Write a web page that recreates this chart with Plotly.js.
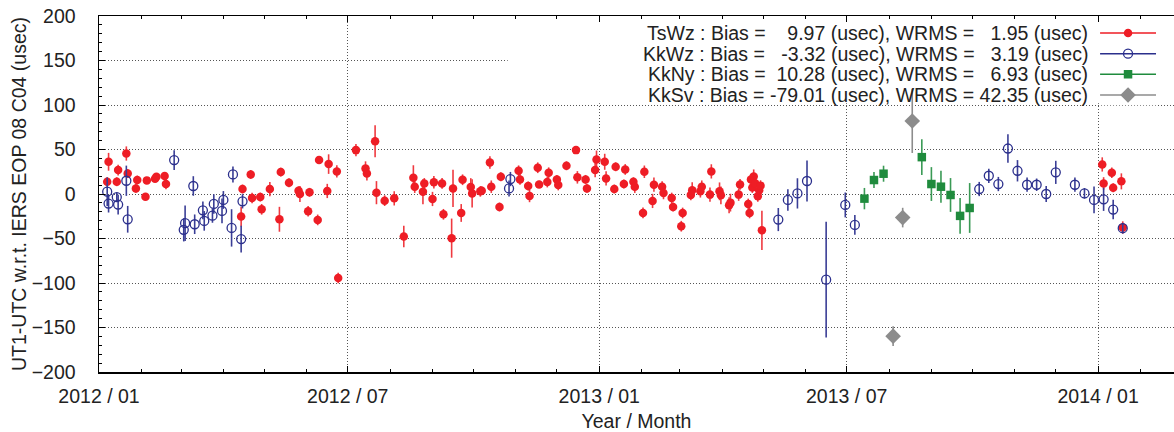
<!DOCTYPE html>
<html><head><meta charset="utf-8">
<script src="https://cdn.plot.ly/plotly-3.0.1.min.js"></script>
<style>html,body{margin:0;padding:0;background:#fff}#chart{width:1174px;height:432px}</style>
</head><body><div id="chart"></div>
<script>
// ---- TsWz ----
const tsDates = ["2012-01-07","2012-01-08","2012-01-14","2012-01-15","2012-01-21","2012-01-22","2012-01-28","2012-01-29","2012-02-04","2012-02-05","2012-02-11","2012-02-12","2012-02-18","2012-02-19",
"2012-04-14","2012-04-15","2012-04-21","2012-04-22","2012-04-28","2012-04-29","2012-05-05","2012-05-12","2012-05-13","2012-05-19","2012-05-26","2012-05-27","2012-06-02","2012-06-03","2012-06-09","2012-06-10","2012-06-16","2012-06-17","2012-06-23","2012-06-24",
"2012-07-07","2012-07-14","2012-07-15","2012-07-21","2012-07-22","2012-07-28","2012-08-04","2012-08-11","2012-08-18","2012-08-19","2012-08-25","2012-08-26","2012-09-01","2012-09-02","2012-09-08","2012-09-09","2012-09-15","2012-09-16","2012-09-22","2012-09-23","2012-09-29","2012-09-30",
"2012-10-06","2012-10-07","2012-10-13","2012-10-14","2012-10-20","2012-10-21","2012-11-03","2012-11-04","2012-11-10","2012-11-11","2012-11-17","2012-11-18","2012-11-24","2012-11-25","2012-12-01","2012-12-02","2012-12-08","2012-12-15","2012-12-16","2012-12-22","2012-12-23","2012-12-29","2012-12-30",
"2013-01-05","2013-01-06","2013-01-12","2013-01-13","2013-01-19","2013-01-20","2013-01-26","2013-01-27","2013-02-02","2013-02-03","2013-02-09","2013-02-10","2013-02-16","2013-02-17","2013-02-23","2013-02-24","2013-03-02","2013-03-03","2013-03-09","2013-03-10","2013-03-16","2013-03-17","2013-03-23","2013-03-24","2013-03-30","2013-03-31",
"2013-04-06","2013-04-07","2013-04-13","2013-04-14","2013-04-20","2013-04-21","2013-04-22","2013-04-23","2013-04-24","2013-04-25","2013-04-27","2013-04-28","2013-04-29","2013-04-30",
"2014-01-04","2014-01-05","2014-01-11","2014-01-12","2014-01-18","2014-01-19"];
const tsValues = [13.8,36.2,13.8,26.9,45.5,23.1,6.3,15.7,-3.0,15.3,17.2,19.4,20.1,11.2,
-25.4,5.6,22.0,-4.5,-3.4,-17.2,5.6,-28.4,24.6,12.7,3.7,0.0,-19.4,1.9,-29.1,38.1,3.4,33.6,25.4,-94.4,
49.3,28.7,23.1,59.3,1.5,-7.5,-4.9,-47.8,18.3,8.2,2.6,11.9,-5.6,13.1,11.9,-22.8,-49.6,6.3,-21.3,16.0,7.8,0.7,
3.0,3.7,35.4,8.2,-14.6,19.4,26.1,16.4,9.0,-2.2,29.5,10.8,13.4,23.9,16.4,10.1,31.7,49.3,18.7,16.4,6.3,26.9,38.8,
36.2,17.5,5.6,30.6,11.2,27.6,13.8,8.2,-21.3,25.0,-7.8,10.4,8.2,1.1,-4.5,-14.6,-36.2,-21.3,-1.1,4.1,3.0,8.2,-0.7,25.4,3.0,-1.5,
-12.7,-9.7,-0.7,10.8,-11.2,-21.3,16.2,7.2,19.6,12.0,-2.6,4.2,9.4,-40.8,
33.2,11.9,23.9,7.1,14.2,-37.7];
const tsErrors = [5,10,5,6,8,5,5,5,3,3,3,3,4,6,
11,5,5,6,5,6,8,14,5,5,5,9,6,5,6,4,8,11,7,6,
7,8,8,18,13,6,8,12,14,7,14,6,8,7,6,6,22,21,10,6,10,16,
6,5,7,7,5,5,6,6,5,7,6,4,6,6,5,6,5,3,7,5,5,8,10,
9,8,5,5,5,6,5,7,6,7,8,8,6,7,6,5,6,6,6,9,7,7,8,8,10,10,
9,10,7,6,6,6,6,6,8,6,6,6,6,22,
8,7,6,5,9,7];

// ---- KkWz ----
const kwDates = ["2012-01-07","2012-01-08","2012-01-14","2012-01-15","2012-01-21","2012-01-22","2012-02-25","2012-03-03","2012-03-04","2012-03-10","2012-03-11","2012-03-17","2012-03-18","2012-03-24","2012-03-25","2012-03-31","2012-04-01","2012-04-07","2012-04-08","2012-04-14","2012-04-15",
"2012-10-27","2012-10-28",
"2013-05-12","2013-05-19","2013-05-26","2013-06-02","2013-06-16","2013-06-30","2013-07-07",
"2013-10-06","2013-10-13","2013-10-20","2013-10-27","2013-11-03","2013-11-10","2013-11-17","2013-11-24","2013-12-01","2013-12-15","2013-12-22","2013-12-29","2014-01-05","2014-01-12","2014-01-19"];
const kwValues = [2.6,-10.8,-3.4,-11.9,14.9,-28.4,38.1,-40.3,-32.8,9.0,-34.0,-18.3,-30.2,-24.3,-11.2,-19.0,-6.7,-38.1,22.0,-50.7,-8.2,
6.3,16.8,
-28.7,-6.7,0.7,14.6,-96.3,-12.3,-34.7,
5.6,20.5,11.2,51.1,26.1,10.4,10.4,0.0,24.3,10.4,0.7,-6.7,-6.0,-17.5,-38.4];
const kwErrors = [16,10,5,11,17,15,11,13,20,11,11,10,11,8,11,14,10,21,9,15,8,
9,8,
13,12,17,23,65,14,11,
8,8,8,16,12,8,7,9,13,8,6,15,13,11,6];

// ---- KkNy ----
const knDates = ["2013-07-14","2013-07-21","2013-07-28","2013-08-25","2013-09-01","2013-09-08","2013-09-15","2013-09-22","2013-09-29"];
const knValues = [-5.2,15.7,22.8,41.4,11.2,8.2,-1.1,-24.6,-15.7];
const knErrors = [12,9,9,20,19,18,19,20,28];

// ---- KkSv ----
const ksDates = ["2013-08-04","2013-08-11","2013-08-18"];
const ksValues = [-159.7,-26.5,82.1];
const ksErrors = [11,11,36];

const seriesNames = ["TsWz","KkWz","KkNy","KkSv"];
const legendLabels = [
  "TsWz : Bias =    9.97 (usec), WRMS =   1.95 (usec)",
  "KkWz : Bias =   -3.32 (usec), WRMS =   3.19 (usec)",
  "KkNy : Bias =  10.28 (usec), WRMS =   6.93 (usec)",
  "KkSv : Bias = -79.01 (usec), WRMS = 42.35 (usec)"
];
const yTitle = "UT1-UTC w.r.t. IERS EOP 08 C04 (usec)";
const xTitle = "Year / Month";

const styles = [
  {color:"#ee1d25", ecolor:"#ef3a40", symbol:"circle", size:8.5, lw:0},
  {color:"#2b2f8c", ecolor:"#3a3e96", symbol:"circle-open", size:9, lw:1.3},
  {color:"#1f8b3d", ecolor:"#3a9a55", symbol:"square", size:8.5, lw:0},
  {color:"#8c8c8c", ecolor:"#8c8c8c", symbol:"diamond", size:12, lw:0}
];
const data = [[tsDates,tsValues,tsErrors],[kwDates,kwValues,kwErrors],[knDates,knValues,knErrors],[ksDates,ksValues,ksErrors]];

const traces = [];
data.forEach((d,i)=>{
  const s = styles[i];
  traces.push({
    type:"scatter", mode:"markers", name:seriesNames[i], x:d[0], y:d[1],
    xaxis:"x", yaxis:"y", cliponaxis:true,
    marker:{color:s.color, symbol:s.symbol, size:s.size, line:{color:s.color, width:s.lw}},
    error_y:{type:"data", array:d[2], visible:true, width:0, thickness:1.6, color:s.ecolor},
    showlegend:false, hoverinfo:"skip"
  });
});
// legend samples (line with marker), drawn in a small helper subplot
styles.forEach((s,i)=>{
  traces.push({type:"scatter", mode:"lines+markers", x:[0,0.5,1], y:[i,i,i], xaxis:"x2", yaxis:"y2",
    line:{color:s.color, width:1.5},
    marker:{color:s.color, symbol:s.symbol, size:s.size, opacity:[0,1,0], line:{color:s.color,width:s.lw}},
    showlegend:false, hoverinfo:"skip"});
});

const FONT = "Liberation Sans, Arial, sans-serif";
const TXT = "#222";
const nb = t => t.replace(/ /g, "\u00a0");

const annotations = legendLabels.map((t,i)=>({
  text: nb(t), xref:"paper", yref:"y2", x:0.9219, y:i, xanchor:"right", yanchor:"middle",
  showarrow:false, font:{family:FONT, size:19.5, color:TXT}
}));

const layout = {
  width:1174, height:432,
  margin:{l:99, r:0, t:16, b:60},
  paper_bgcolor:"#fff", plot_bgcolor:"#fff",
  font:{family:FONT, size:19.5, color:TXT},
  showlegend:false,
  xaxis:{
    type:"date", range:["2012-01-01","2014-02-25 12:00"],
    tick0:"2012-01-01", dtick:"M6", tickformat:"%Y / %m",
    ticks:"inside", ticklen:6, tickwidth:1, tickcolor:"#000",
    minor:{dtick:"M1", ticks:"inside", ticklen:3, tickcolor:"#000", showgrid:false},
    showline:true, linecolor:"#000", linewidth:1.5, mirror:"allticks",
    showgrid:true, gridcolor:"#555", gridwidth:1, griddash:"1px,2px",
    zeroline:false, ticklabelstandoff:6,
    tickfont:{family:FONT, size:19.5, color:TXT},
    title:{text:xTitle, font:{family:FONT, size:19.5, color:TXT}, standoff:10},
    automargin:false
  },
  yaxis:{
    range:[-200,200], dtick:50, tick0:0,
    ticks:"inside", ticklen:6, tickwidth:1, tickcolor:"#000",
    minor:{dtick:10, ticks:"inside", ticklen:3, tickcolor:"#000", showgrid:false},
    showline:true, linecolor:"#000", linewidth:1.5, mirror:false,
    showgrid:true, gridcolor:"#555", gridwidth:1, griddash:"1px,2px",
    zeroline:false, ticklabelstandoff:18,
    tickfont:{family:FONT, size:19.5, color:TXT},
    title:{text:yTitle, font:{family:FONT, size:19.5, color:TXT}, standoff:0},
    automargin:false
  },
  xaxis2:{domain:[0.9312,0.9833], range:[0,1], anchor:"y2", visible:false, fixedrange:true},
  yaxis2:{domain:[0.749,0.9813], range:[3.5,-0.5], anchor:"x2", visible:false, fixedrange:true},
  shapes:[{type:"rect", xref:"x", yref:"y", layer:"between",
    x0:"2012-10-26", x1:"2014-06-01", y0:102, y1:210,
    fillcolor:"#ffffff", line:{width:0}}],
  annotations: annotations
};

Plotly.newPlot("chart", traces, layout, {staticPlot:true, displayModeBar:false});
</script></body></html>
